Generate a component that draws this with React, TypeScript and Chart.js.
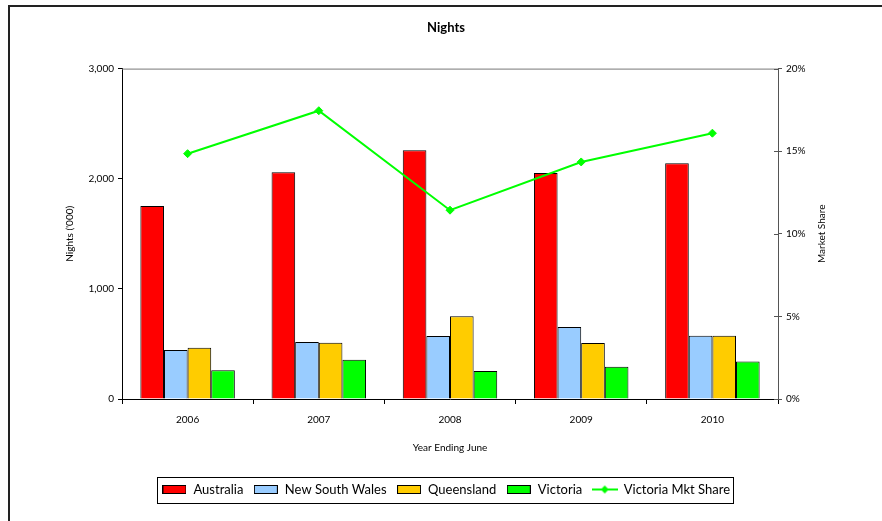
import React, { useEffect, useRef } from "react";
import { Chart, registerables } from "chart.js";

Chart.register(...registerables);

const categories = ["2006", "2007", "2008", "2009", "2010"];
const australia = [1753, 2058, 2259, 2052, 2140];
const newSouthWales = [444, 517, 572, 654, 574];
const queensland = [465, 511, 751, 508, 574];
const victoria = [262, 356, 255, 292, 340];
const victoriaShare = [14.85, 17.45, 11.43, 14.35, 16.09];
const leftTicks = [0, 1000, 2000, 3000];
const rightTicks = [0, 5, 10, 15, 20];
const rightTitle = "Market Share";

const FONT = "Lato, 'DejaVu Sans', sans-serif";

function swatch(color: string): HTMLCanvasElement {
  const c = document.createElement("canvas");
  c.width = 24;
  c.height = 9;
  const g = c.getContext("2d")!;
  g.fillStyle = color;
  g.fillRect(0, 0, 24, 9);
  g.strokeStyle = "#000";
  g.lineWidth = 1;
  g.strokeRect(0.5, 0.5, 23, 8);
  return c;
}

function lineIcon(color: string): HTMLCanvasElement {
  const c = document.createElement("canvas");
  c.width = 26;
  c.height = 10;
  const g = c.getContext("2d")!;
  g.strokeStyle = color;
  g.lineWidth = 2;
  g.beginPath();
  g.moveTo(0, 5);
  g.lineTo(26, 5);
  g.stroke();
  g.fillStyle = color;
  g.beginPath();
  g.moveTo(13, 1);
  g.lineTo(17, 5);
  g.lineTo(13, 9);
  g.lineTo(9, 5);
  g.closePath();
  g.fill();
  return c;
}

const decor = {
  id: "decor",
  afterDraw(chart: any) {
    const ctx = chart.ctx;
    const a = chart.chartArea;
    ctx.save();
    // outer frame
    ctx.fillStyle = "#222";
    ctx.fillRect(8, 5, 900, 2);
    ctx.fillRect(8, 5, 2, 530);
    // plot top border
    ctx.strokeStyle = "#777";
    ctx.lineWidth = 1;
    ctx.beginPath();
    ctx.moveTo(a.left, a.top + 0.5);
    ctx.lineTo(a.right, a.top + 0.5);
    ctx.stroke();
    // inward ticks on right axis
    const y1 = chart.scales.y1;
    ctx.strokeStyle = "#555";
    ctx.beginPath();
    for (const t of rightTicks) {
      const py = Math.round(y1.getPixelForValue(t)) + 0.5;
      ctx.moveTo(a.right - 4, py);
      ctx.lineTo(a.right, py);
    }
    ctx.stroke();
    // right axis title, reading bottom to top
    ctx.fillStyle = "#000";
    ctx.font = "10px " + FONT;
    ctx.textAlign = "center";
    ctx.textBaseline = "middle";
    ctx.translate(822, (a.top + a.bottom) / 2);
    ctx.rotate(-Math.PI / 2);
    ctx.fillText(rightTitle, 0, 0);
    ctx.setTransform(1, 0, 0, 1, 0, 0);
    // legend box
    const lg = chart.legend;
    if (lg && lg.legendHitBoxes && lg.legendHitBoxes.length) {
      const hb = lg.legendHitBoxes;
      let minX = Infinity, maxX = -Infinity, minY = Infinity, maxY = -Infinity;
      for (const h of hb) {
        minX = Math.min(minX, h.left);
        maxX = Math.max(maxX, h.left + h.width);
        minY = Math.min(minY, h.top);
        maxY = Math.max(maxY, h.top + h.height);
      }
      ctx.strokeStyle = "#000";
      ctx.lineWidth = 1;
      const cy = (minY + maxY) / 2;
      ctx.strokeRect(Math.round(minX - 5) + 0.5, Math.round(cy - 13) + 0.5, Math.round(maxX - minX + 8), 26);
    }
    ctx.restore();
  },
};

export default function App() {
  const ref = useRef<HTMLCanvasElement | null>(null);

  useEffect(() => {
    if (!ref.current) return;
    const icons = [swatch("#FF0000"), swatch("#99CCFF"), swatch("#FFCC00"), swatch("#00FF00"), lineIcon("#00FF00")];
    const barCommon = {
      borderColor: "#000",
      borderWidth: 1,
      categoryPercentage: 0.72,
      barPercentage: 1,
      yAxisID: "y",
      order: 2,
    };
    const chart = new Chart(ref.current, {
      data: {
        labels: categories,
        datasets: [
          { type: "bar", label: "Australia", data: australia, backgroundColor: "#FF0000", ...barCommon },
          { type: "bar", label: "New South Wales", data: newSouthWales, backgroundColor: "#99CCFF", ...barCommon },
          { type: "bar", label: "Queensland", data: queensland, backgroundColor: "#FFCC00", ...barCommon },
          { type: "bar", label: "Victoria", data: victoria, backgroundColor: "#00FF00", ...barCommon },
          {
            type: "line",
            label: "Victoria Mkt Share",
            data: victoriaShare,
            borderColor: "#00FF00",
            backgroundColor: "#00FF00",
            borderWidth: 2,
            pointStyle: "rectRot",
            pointRadius: 4,
            pointBorderWidth: 1,
            yAxisID: "y1",
            order: 1,
          },
        ] as any,
      },
      options: {
        animation: false,
        responsive: false,
        maintainAspectRatio: false,
        layout: { padding: { left: 60, right: 50, top: 0, bottom: 15 } },
        plugins: {
          title: {
            display: true,
            text: "Nights",
            color: "#000",
            font: { family: FONT, size: 13, weight: "bold" },
            padding: { top: 20, bottom: 33 },
          },
          legend: {
            position: "bottom",
            labels: {
              usePointStyle: true,
              pointStyleWidth: 25,
              color: "#000",
              font: { family: FONT, size: 13 },
              padding: 10,
              generateLabels: (ch: any) =>
                ch.data.datasets.map((ds: any, i: number) => ({
                  text: ds.label,
                  pointStyle: icons[i],
                  datasetIndex: i,
                  hidden: false,
                  lineWidth: 0,
                  fillStyle: "transparent",
                  strokeStyle: "transparent",
                  fontColor: "#000",
                })),
            },
          },
          tooltip: { enabled: false },
        },
        scales: {
          x: {
            offset: true,
            grid: { offset: true, drawOnChartArea: false, drawTicks: true, tickLength: 5, color: "#000" },
            border: { color: "#000", width: 1 },
            ticks: { color: "#000", font: { family: FONT, size: 10 }, padding: 10 },
            title: { display: true, text: "Year Ending June", color: "#000", font: { family: FONT, size: 10 }, padding: { top: 12, bottom: 19 } },
            afterFit: (s: any) => { s.height = 74; },
          },
          y: {
            position: "left",
            min: 0,
            max: 3000,
            afterBuildTicks: (s: any) => { s.ticks = leftTicks.map((v) => ({ value: v })); },
            grid: { drawOnChartArea: false, drawTicks: true, tickLength: 4, color: "#000" },
            border: { color: "#000", width: 1 },
            ticks: { color: "#000", font: { family: FONT, size: 10 }, padding: 4, callback: (v: any) => Number(v).toLocaleString("en-US") },
            title: { display: true, text: "Nights ('000)", color: "#000", font: { family: FONT, size: 10 }, padding: { top: 4, bottom: 0 } },
            afterFit: (s: any) => { s.width = 62; },
          },
          y1: {
            position: "right",
            min: 0,
            max: 20,
            afterBuildTicks: (s: any) => { s.ticks = rightTicks.map((v) => ({ value: v })); },
            grid: { drawOnChartArea: false, drawTicks: true, tickLength: 4, color: "#555" },
            border: { color: "#555", width: 1 },
            ticks: { color: "#000", font: { family: FONT, size: 10 }, padding: 4, callback: (v: any) => v + "%" },
            title: { display: false },
            afterFit: (s: any) => { s.width = 54; },
          },
        },
      } as any,
      plugins: [decor],
    });
    return () => chart.destroy();
  }, []);

  return (
    <div style={{ position: "absolute", left: 0, top: 0, width: 882, height: 521, background: "#fff" }}>
      <canvas ref={ref} width={882} height={521} style={{ display: "block" }} />
    </div>
  );
}
